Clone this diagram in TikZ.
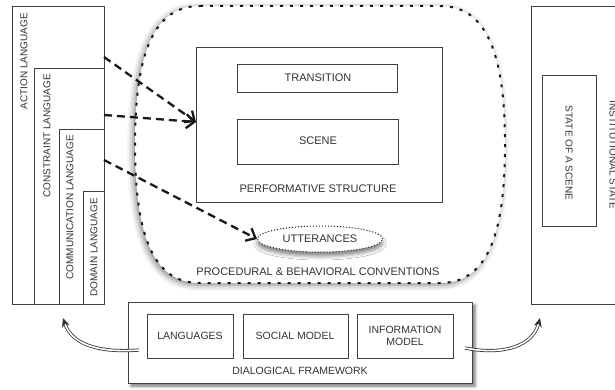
\documentclass[tikz,border=0pt]{standalone}
\usepackage{fontspec}
\setmainfont{Liberation Sans}
\usetikzlibrary{arrows.meta,shapes.geometric,shadows.blur,calc}

\tikzset{
  frame/.style={draw=black!75, line width=0.8pt, inner sep=0pt, outer sep=0pt,
    anchor=north west, fill=white},
  lbl/.style={text=black!80, inner sep=0pt, font=\fontsize{11}{13}\selectfont},
  lblsm/.style={lbl, font=\fontsize{10}{12}\selectfont},
  lblmd/.style={lbl, font=\fontsize{10.5}{12.5}\selectfont, align=center},
  flow/.style={draw=black!90, line width=2.3pt, dash pattern=on 8pt off 5pt,
    -{Straight Barb[length=8pt,width=14pt]}},
  feed/.style={draw=black!80, line width=0.8pt, double=white, double distance=1.6pt,
    -{Stealth[length=9pt,width=8pt]}},
  softshadow/.style={blur shadow={shadow xshift=-2pt, shadow yshift=-2pt,
    shadow blur radius=6pt, shadow opacity=50}},
}

\begin{document}
\begin{tikzpicture}[x=1pt, y=-1pt]
\useasboundingbox (0,0) rectangle (615,390);
\clip (0,0) rectangle (615,390);

% conventions cloud
\path[fill=white, softshadow]
  (200,6) -- (440,6) .. controls (485,6) and (505,50) .. (505,145)
  .. controls (505,240) and (485,283) .. (440,283) -- (200,283)
  .. controls (155,283) and (135,240) .. (135,145)
  .. controls (135,50) and (155,6) .. (200,6) -- cycle;
\draw[black!90, line width=2pt, dash pattern=on 3pt off 7pt]
  (200,6) -- (440,6) .. controls (485,6) and (505,50) .. (505,145)
  .. controls (505,240) and (485,283) .. (440,283) -- (200,283)
  .. controls (155,283) and (135,240) .. (135,145)
  .. controls (135,50) and (155,6) .. (200,6) -- cycle;

% performative structure
\node[frame, minimum width=246pt, minimum height=155pt] (perf) at (196,47) {};
\node[frame, minimum width=160pt, minimum height=28pt] (trans) at (237,64) {};
\node[frame, minimum width=161pt, minimum height=45pt] (scene) at (237,119) {};
\node[lbl] (ttrans) at (318,78) {TRANSITION};
\node[lbl] (tscene) at (318,141) {SCENE};
\node[lbl] (tperf) at (318,189) {PERFORMATIVE STRUCTURE};

% utterances
\node[ellipse, draw=black!85, line width=1pt, dash pattern=on 1pt off 2pt,
  fill=white, minimum width=125pt, minimum height=26pt, inner sep=0pt,
  blur shadow={shadow xshift=0pt, shadow yshift=-4pt, shadow blur radius=4pt,
  shadow opacity=50}] (utt) at (320,239) {};
\node[lbl] (tutt) at (320,239) {UTTERANCES};
\node[lbl] (tconv) at (318,272) {PROCEDURAL \& BEHAVIORAL CONVENTIONS};

% nested languages
\node[frame, minimum width=92pt, minimum height=298pt] (act) at (12,6) {};
\node[frame, minimum width=70pt, minimum height=236pt] (con) at (34,68) {};
\node[frame, minimum width=45pt, minimum height=175pt] (com) at (59,129) {};
\node[frame, minimum width=21pt, minimum height=113pt] (dom) at (83,191) {};
\node[lblsm, rotate=90, anchor=east] (tact) at (24,13) {ACTION LANGUAGE};
\node[lblsm, rotate=90, anchor=east] (tcon) at (47,74) {CONSTRAINT LANGUAGE};
\node[lblsm, rotate=90, anchor=east] (tcom) at (70,135) {COMMUNICATION LANGUAGE};
\node[lblsm, rotate=90, anchor=east] (tdom) at (94,198) {DOMAIN LANGUAGE};

% institutional state
\node[frame, minimum width=120pt, minimum height=298pt] (inst) at (531,6) {};
\node[frame, minimum width=54pt, minimum height=151pt] (sos) at (542,75) {};
\node[lblsm, rotate=-90] (tsos) at (569,153) {STATE OF A SCENE};
\node[lblsm, rotate=-90] (tinst) at (613,155) {INSTITUTIONAL STATE};

% dialogical framework
\node[frame, minimum width=344pt, minimum height=81pt,
  blur shadow={shadow xshift=3pt, shadow yshift=-3pt, shadow blur radius=3pt,
  shadow opacity=55}] (dlg) at (128,302) {};
\node[frame, minimum width=86pt, minimum height=44pt] (lang) at (147,314) {};
\node[frame, minimum width=105pt, minimum height=44pt] (soc) at (243,314) {};
\node[frame, minimum width=96pt, minimum height=44pt] (info) at (357,314) {};
\node[lblmd] (tlang) at (190,336) {LANGUAGES};
\node[lblmd] (tsoc) at (295,336) {SOCIAL MODEL};
\node[lblmd] (tinfo) at (405,336) {INFORMATION\\MODEL};
\node[lblmd] (tdlg) at (300,371) {DIALOGICAL FRAMEWORK};

% language flows
\draw[flow] ([yshift=-51pt]act.north east) -- ([yshift=-75pt]perf.north west);
\draw[flow] ([yshift=-47pt]con.north east) -- ([yshift=-75pt]perf.north west);
\draw[flow] ([yshift=-31pt]com.north east) -- (utt.west);

% framework feeds
\coordinate (lfoot) at (63,318);
\coordinate (rfoot) at (540,318);
\draw[feed] ([xshift=11pt,yshift=-48pt]dlg.north west)
  .. controls (100,353) and (72,345) .. (lfoot);
\draw[feed] ([xshift=-7pt,yshift=-46pt]dlg.north east)
  .. controls (505,356) and (533,345) .. (rfoot);
\end{tikzpicture}
\end{document}
